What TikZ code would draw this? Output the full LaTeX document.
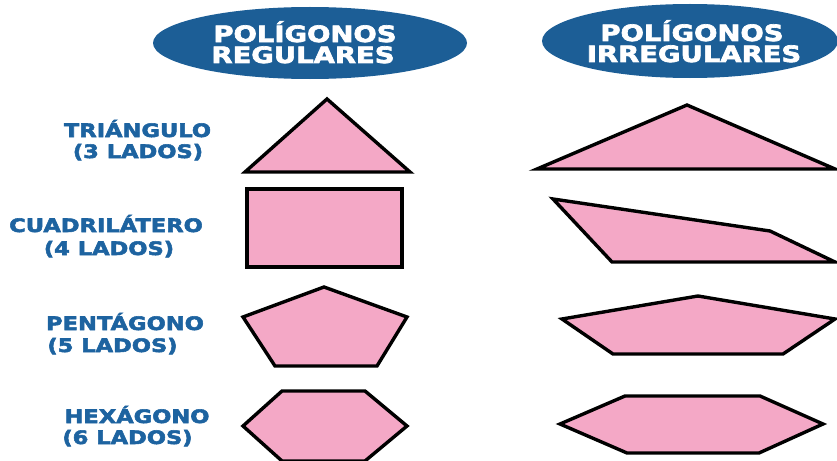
\documentclass[tikz,border=0pt]{standalone}
\usepackage{fontspec}
\newfontfamily\lblfont{DejaVu Sans}[FakeStretch=1.22,FakeBold=3]
\definecolor{hblue}{HTML}{1C5E96}
\definecolor{tblue}{HTML}{1D63A0}
\definecolor{pinkfill}{HTML}{F4A8C6}
\begin{document}
\begin{tikzpicture}[x=1pt,y=-1pt,
  poly/.style={draw=black,line width=3.4pt,fill=pinkfill},
  htext/.style={text=white,font=\lblfont\bfseries\fontsize{22.5}{20}\selectfont,anchor=base,inner sep=0pt},
  ltext/.style={text=tblue,font=\lblfont\bfseries\fontsize{18.5}{16}\selectfont,anchor=base,inner sep=0pt}]
\useasboundingbox (0,0) rectangle (837,460);
\begin{scope}
\clip (0,0) rectangle (837,460);
% header ellipses
\fill[hblue] (310,43) ellipse [x radius=157, y radius=36];
\fill[hblue] (690,41) ellipse [x radius=148, y radius=37];
\node[htext] (h1a) at (305,42) {POLÍGONOS};
\node[htext] (h1b) at (303,63) {REGULARES};
\node[htext] (h2a) at (692,41) {POLÍGONOS};
\node[htext] (h2b) at (694,62) {IRREGULARES};
% labels
\node[ltext] (t1) at (137.5,137) {TRIÁNGULO};
\node[ltext] (t2) at (138,158) {(3 LADOS)};
\node[ltext] (c1) at (106,232) {CUADRILÁTERO};
\node[ltext] (c2) at (109,255) {(4 LADOS)};
\node[ltext] (p1) at (125,330) {PENTÁGONO};
\node[ltext] (p2) at (112.5,352) {(5 LADOS)};
\node[ltext] (x1) at (137,423) {HEXÁGONO};
\node[ltext] (x2) at (127.5,444) {(6 LADOS)};
% regular polygons
\draw[poly] (327,99) -- (410,172) -- (245,172) -- cycle;
\draw[poly] (247,189) rectangle (402,267);
\draw[poly] (324,287) -- (407,317) -- (377,366) -- (275,366) -- (243,317) -- cycle;
\draw[poly] (282,391) -- (365,391) -- (407,426) -- (365,461) -- (282,461) -- (243,426) -- cycle;
% irregular polygons
\draw[poly] (687,105) -- (835,169) -- (537,169) -- cycle;
\draw[poly] (553,199) -- (770,231) -- (835,262) -- (612,262) -- cycle;
\draw[poly] (698,296) -- (835,319) -- (783,354) -- (613,354) -- (562,319) -- cycle;
\draw[poly] (625,396) -- (760,396) -- (823,424) -- (759,453) -- (627,453) -- (560,424) -- cycle;
\end{scope}
\end{tikzpicture}
\end{document}
